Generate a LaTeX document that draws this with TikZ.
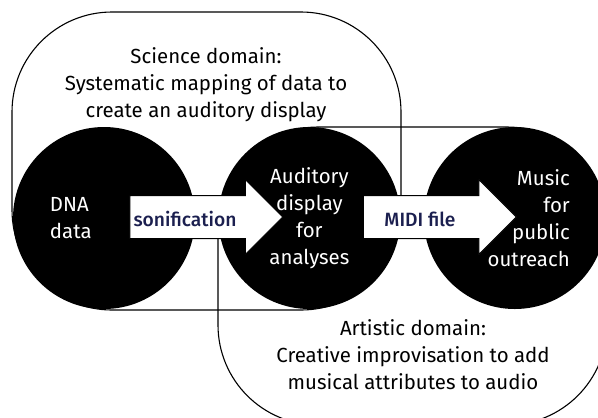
\documentclass[tikz,border=0pt]{standalone}
\usepackage{fontspec}
\setmainfont{Fira Sans}
\newfontfamily\flowfont{Fira Sans Medium}
\usepackage{xcolor}
\usepackage{tikz}
\usetikzlibrary{positioning,shapes.arrows}
\definecolor{FlowNavy}{HTML}{1B1F4F}

\begin{document}
\begin{tikzpicture}[x=1bp, y=-1bp, every node/.style={font=\fontsize{20.5}{27}\selectfont}]
    \tikzstyle{domainbox}=[draw, line width=1.1bp, rounded corners=100bp]
    \tikzstyle{blob}=[circle, fill=black, minimum size=182bp, inner sep=0]
    \tikzstyle{blobtext}=[text=white, inner sep=0]
    \tikzstyle{flow}=[single arrow, draw, fill=white, line width=1bp,
                      inner xsep=0, inner ysep=21bp,
                      single arrow head extend=16bp, minimum height=153bp]
    \tikzstyle{flowtext}=[text=FlowNavy, inner sep=0, anchor=base,
                          font=\fontsize{19.3}{27}\selectfont\flowfont]

    \useasboundingbox (0,0) rectangle (598,417);
    \clip (0,0) rectangle (598,417);

    % the two domains
    \draw[domainbox] (12,12) rectangle (401,310);
    \draw[domainbox] (218,127) rectangle (607,425);

    \node[align=center, inner sep=0] (sci) at (206,85)
        {Science domain:\\ Systematic mapping of data to\\ create an auditory display};
    \node[align=center, inner sep=0] (art) at (413,355)
        {Artistic domain:\\ Creative improvisation to add\\ musical attributes to audio};

    % stages
    \node[blob] (dna) at (104,218) {};
    \node[blob, right=23bp of dna] (aud) {};
    \node[blob, right=23bp of aud] (mus) {};

    \node[blobtext, align=left, right=37bp of dna.west] (dnatxt) {DNA\\ data};
    \node[blobtext, align=center] (audtxt) at (aud.center) {Auditory\\ display\\ for\\ analyses};
    \node[blobtext, align=right, left=36bp of mus.east] (mustxt) {Music\\ for\\ public\\ outreach};

    % block arrows between the stages
    \node[flow] (son) at (195.5,217) {};
    \node[flow] (midi) at (429,217) {};
    \node[flowtext] (sontxt) at (185,226) {sonification};
    \node[flowtext] (miditxt) at (420,226) {MIDI file};

  \end{tikzpicture}
\end{document}
